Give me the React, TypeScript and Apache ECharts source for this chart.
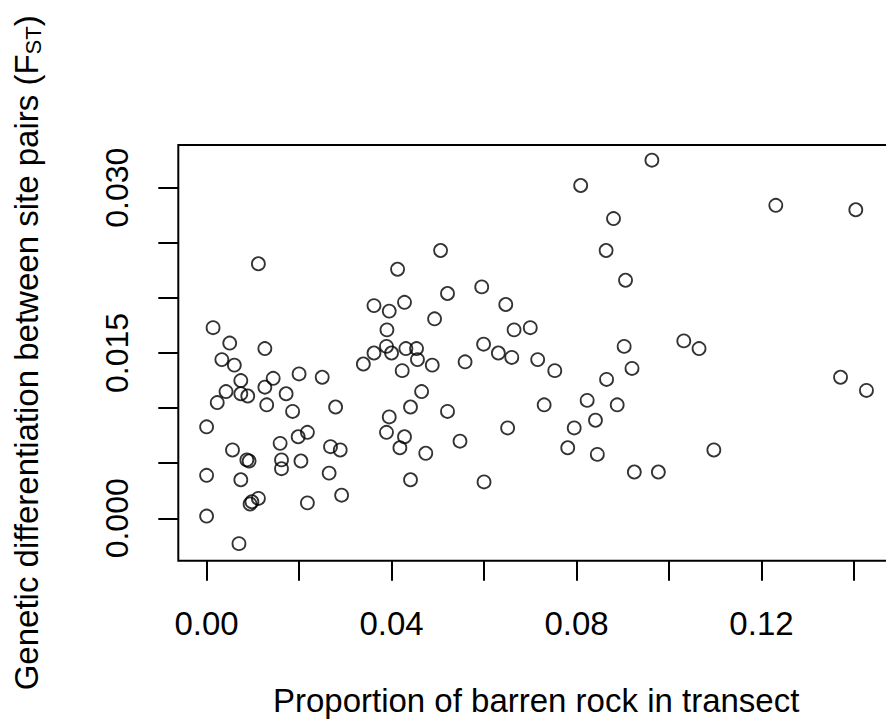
import React, { useEffect, useRef } from "react";
import * as echarts from "echarts";

// Proportion of barren rock in transect
const rockProportion: number[] = [
  0.0112, 0.0014, 0.0050, 0.0126, 0.0362, 0.0395, 0.0428, 0.0413, 0.0506, 0.0521,
  0.0390, 0.0493, 0.0595, 0.0647, 0.0665, 0.0700, 0.0599, 0.0631, 0.0660,
  0.0033, 0.0060, 0.0074, 0.0144, 0.0200, 0.0250, 0.0126, 0.0042, 0.0074, 0.0089,
  0.0023, 0.0172, 0.0130, 0.0186, 0.0279, 0.0000, 0.0159, 0.0056, 0.0087, 0.0092,
  0.0198, 0.0218, 0.0162, 0.0162, 0.0204, 0.0268, 0.0289, 0.0265, 0.0000, 0.0074,
  0.0094, 0.0098, 0.0112, 0.0218, 0.0292, 0.0000, 0.0070,
  0.0339, 0.0362, 0.0389, 0.0400, 0.0431, 0.0454, 0.0456, 0.0423, 0.0488, 0.0559,
  0.0465, 0.0441, 0.0395, 0.0521, 0.0389, 0.0428, 0.0418, 0.0474, 0.0548, 0.0651,
  0.0441, 0.0600,
  0.0963, 0.0809, 0.0880, 0.0864, 0.0906, 0.1231, 0.1404, 0.0903, 0.1032, 0.1065,
  0.0716, 0.0753, 0.0920, 0.0865, 0.0823, 0.0888, 0.0730, 0.0841, 0.0795, 0.0781,
  0.0845, 0.0925, 0.0977, 0.1097, 0.1371, 0.1427,
];

// Genetic differentiation (FST)
const fstValues: number[] = [
  0.0231, 0.0173, 0.0159, 0.0154, 0.0193, 0.0188, 0.0196, 0.0226, 0.0243, 0.0204,
  0.0171, 0.0181, 0.0210, 0.0194, 0.0171, 0.0173, 0.0158, 0.0150, 0.0146,
  0.0144, 0.0139, 0.0125, 0.0127, 0.0131, 0.0128, 0.0119, 0.0115, 0.0113, 0.0111,
  0.0105, 0.0113, 0.0103, 0.0097, 0.0101, 0.0083, 0.0068, 0.0062, 0.0053, 0.0052,
  0.0074, 0.0078, 0.0053, 0.0045, 0.0052, 0.0065, 0.0062, 0.0041, 0.0039, 0.0035,
  0.0013, 0.0015, 0.0018, 0.0014, 0.0021, 0.0002, -0.0023,
  0.0140, 0.0150, 0.0156, 0.0150, 0.0154, 0.0154, 0.0144, 0.0134, 0.0139, 0.0142,
  0.0115, 0.0101, 0.0092, 0.0097, 0.0078, 0.0074, 0.0064, 0.0059, 0.0070, 0.0082,
  0.0035, 0.0033,
  0.0325, 0.0302, 0.0272, 0.0243, 0.0216, 0.0284, 0.0280, 0.0156, 0.0161, 0.0154,
  0.0144, 0.0134, 0.0136, 0.0126, 0.0107, 0.0103, 0.0103, 0.0089, 0.0082, 0.0064,
  0.0058, 0.0042, 0.0042, 0.0062, 0.0128, 0.0116,
];

const xTickValues: number[] = [0, 0.02, 0.04, 0.06, 0.08, 0.1, 0.12, 0.14];
const xLabelValues: number[] = [0, 0.04, 0.08, 0.12];
const yTickValues: number[] = [0, 0.005, 0.01, 0.015, 0.02, 0.025, 0.03];
const yLabelValues: number[] = [0, 0.015, 0.03];

const FONT = "'Liberation Sans', Arial, Helvetica, sans-serif";

export default function App() {
  const ref = useRef<HTMLDivElement>(null);

  useEffect(() => {
    if (!ref.current) return;
    const chart = echarts.init(ref.current, null, { renderer: "svg" });
    const data = rockProportion.map((x, i) => [x, fstValues[i]]);
    chart.setOption({
      animation: false,
      backgroundColor: "#ffffff",
      grid: {
        left: 178.3,
        right: -8,
        top: 145,
        bottom: 166.3,
        show: true,
        borderColor: "#000",
        borderWidth: 2,
        backgroundColor: "transparent",
        outerBoundsMode: "none",
        containLabel: false,
      },
      xAxis: {
        type: "value",
        position: "bottom",
        min: -0.00612,
        max: 0.14866,
        splitLine: { show: false },
        axisLine: { show: false, onZero: false },
        axisTick: {
          show: true,
          inside: false,
          length: 20,
          customValues: xTickValues,
          lineStyle: { color: "#000", width: 2 },
        },
        axisLabel: {
          show: true,
          customValues: xLabelValues,
          margin: 46,
          color: "#000",
          fontFamily: FONT,
          fontSize: 33,
          lineHeight: 33,
          formatter: (v: number) => v.toFixed(2),
        },
        name: "Proportion of barren rock in transect",
        nameLocation: "middle",
        nameGap: 123,
        nameTextStyle: {
          color: "#000",
          fontFamily: FONT,
          fontSize: 33,
          lineHeight: 33,
        },
      },
      yAxis: {
        type: "value",
        position: "left",
        min: -0.003848,
        max: 0.033875,
        splitLine: { show: false },
        axisLine: { show: false, onZero: false },
        axisTick: {
          show: true,
          inside: false,
          length: 20,
          customValues: yTickValues,
          lineStyle: { color: "#000", width: 2 },
        },
        axisLabel: {
          show: true,
          customValues: yLabelValues,
          rotate: 90,
          margin: 45,
          color: "#000",
          fontFamily: FONT,
          fontSize: 32,
          lineHeight: 32,
          formatter: (v: number) => v.toFixed(3),
        },
        name: "Genetic differentiation between site pairs (F{sub|ST})",
        nameLocation: "middle",
        nameRotate: 90,
        nameGap: 134,
        nameTextStyle: {
          color: "#000",
          fontFamily: FONT,
          fontSize: 33,
          lineHeight: 36,
          rich: {
            sub: {
              fontFamily: FONT,
              fontSize: 22,
              lineHeight: 36,
              verticalAlign: "bottom",
              padding: [10, 0, 0, 0],
              color: "#000",
            },
          },
        },
      },
      series: [
        {
          type: "scatter",
          data,
          symbol: "circle",
          symbolSize: 13,
          itemStyle: {
            color: "rgba(0,0,0,0)",
            borderColor: "#000",
            borderWidth: 1.8,
          },
          emphasis: { disabled: true },
        },
      ],
    });
    return () => chart.dispose();
  }, []);

  return (
    <div
      ref={ref}
      style={{ position: "absolute", left: 0, top: 0, width: 886, height: 727, background: "#fff" }}
    />
  );
}
